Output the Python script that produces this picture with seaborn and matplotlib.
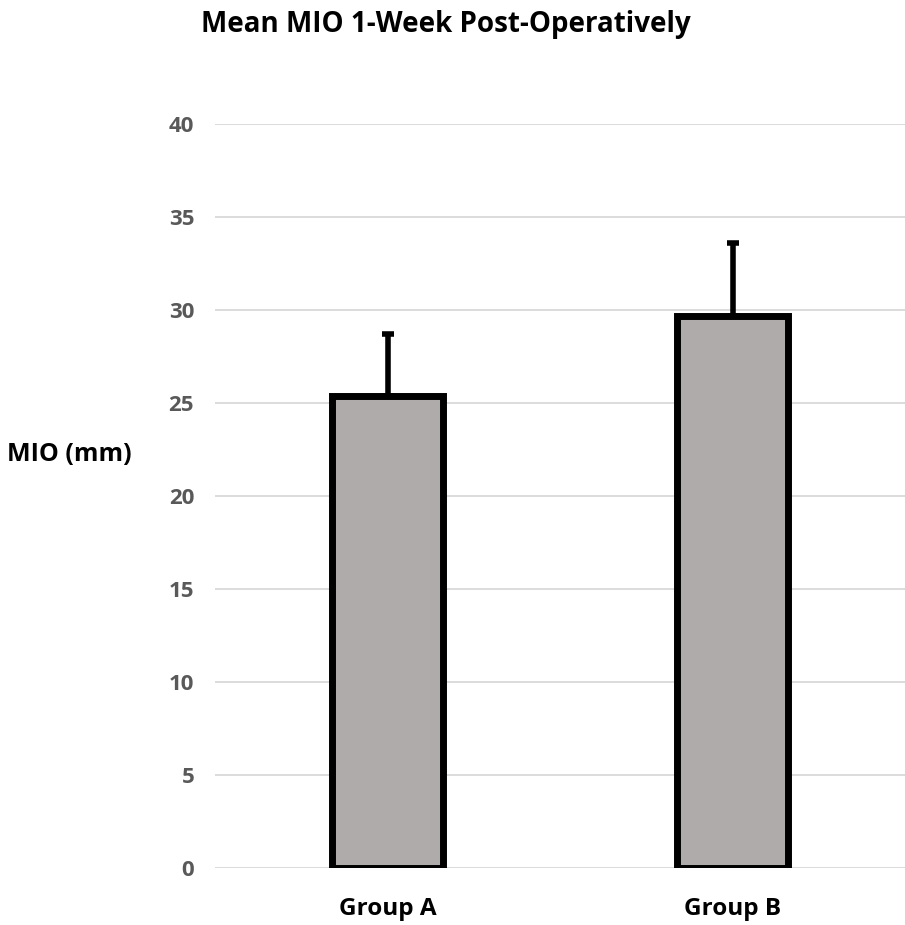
import matplotlib
matplotlib.use("Agg")
import matplotlib.pyplot as plt
import seaborn as sns
import pandas as pd

groups = ["Group A", "Group B"]
mean_mio = [25.4, 29.7]
sd_mio = [3.3, 3.9]
yticks = [0, 5, 10, 15, 20, 25, 30, 35, 40]

sns.set_theme(style="white")
plt.rcParams["font.family"] = ["Open Sans", "DejaVu Sans"]

df = pd.DataFrame({"group": groups, "mio": mean_mio})

W, H = 905, 925
fig = plt.figure(figsize=(W / 100, H / 100), dpi=100)
ax = fig.add_axes([215 / W, (H - 868) / H, 690 / W, (868 - 124) / H])

sns.barplot(data=df, x="group", y="mio", color="#AFABAB", width=0.32,
            edgecolor="black", linewidth=5, saturation=1, ax=ax, zorder=3)
ax.errorbar(range(len(groups)), mean_mio, yerr=[[0] * len(sd_mio), sd_mio],
            fmt="none", ecolor="black", elinewidth=4, capsize=4.3, capthick=4,
            zorder=2)

ax.set_ylim(0, 40)
ax.set_xlim(-0.5, 1.5)
ax.set_yticks(yticks)
ax.set_yticklabels([str(t) for t in yticks])
ax.yaxis.grid(True, color="#D9D9D9", linewidth=1.3, zorder=0)
ax.set_axisbelow(True)
for s in ax.spines.values():
    s.set_visible(False)
ax.tick_params(axis="y", length=0, pad=15, labelsize=16, labelcolor="#595959")
ax.tick_params(axis="x", length=0, pad=21, labelsize=17.5, labelcolor="black")
for lab in ax.get_yticklabels():
    lab.set_fontweight("bold")
for lab in ax.get_xticklabels():
    lab.set_fontweight("bold")
ax.set_xlabel("")
ax.set_ylabel("")

fig.text(446 / W, 1 - 32 / H, "Mean MIO 1-Week Post-Operatively",
         ha="center", va="baseline", fontsize=20, fontweight="bold",
         color="black")
fig.text(69 / W, 1 - 461 / H, "MIO (mm)", ha="center", va="baseline",
         fontsize=18, fontweight="bold", color="black")

fig.savefig("out.png", dpi=100)
